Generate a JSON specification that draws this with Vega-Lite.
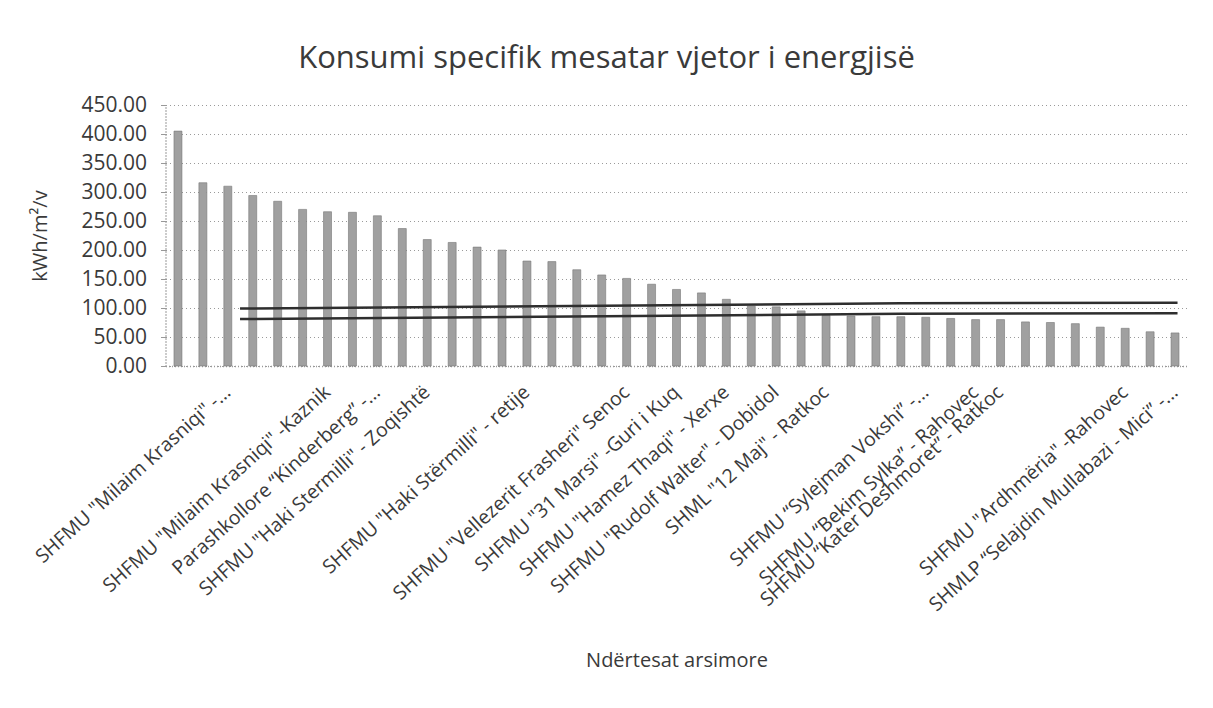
{
  "$schema": "https://vega.github.io/schema/vega-lite/v6.json",
  "width": 1022,
  "height": 261,
  "autosize": {"type": "none"},
  "padding": {"left": 165.5, "top": 105, "right": 25.5, "bottom": 342},
  "background": "white",
  "config": {"view": {"stroke": null}, "font": "Open Sans"},
  "title": {
    "text": "Konsumi specifik mesatar vjetor i energjisë",
    "font": "Open Sans",
    "fontSize": 31,
    "fontWeight": "normal",
    "color": "#3a3a3a",
    "dx": -70,
    "offset": 19
  },
  "datasets": {
    "bars": [
      {"name": "#01", "value": 405},
      {"name": "#02", "value": 316},
      {"name": "SHFMU \"Milaim Krasniqi\" -...", "value": 310},
      {"name": "#04", "value": 294},
      {"name": "#05", "value": 284},
      {"name": "#06", "value": 270},
      {"name": "SHFMU \"Milaim Krasniqi\" -Kaznik", "value": 266},
      {"name": "#08", "value": 265},
      {"name": "Parashkollore “Kinderberg” -...", "value": 259},
      {"name": "#10", "value": 237},
      {"name": "SHFMU \"Haki Stermilli\" - Zoqishtë", "value": 218},
      {"name": "#12", "value": 213},
      {"name": "#13", "value": 205},
      {"name": "#14", "value": 200},
      {"name": "SHFMU \"Haki Stërmilli\" - retije", "value": 181},
      {"name": "#16", "value": 180},
      {"name": "#17", "value": 166},
      {"name": "#18", "value": 157},
      {"name": "SHFMU \"Vellezerit Frasheri\" Senoc", "value": 151},
      {"name": "#20", "value": 141},
      {"name": "SHFMU \"31 Marsi\" -Guri i Kuq", "value": 132},
      {"name": "#22", "value": 126},
      {"name": "SHFMU \"Hamez Thaqi\" - Xerxe", "value": 115},
      {"name": "#24", "value": 103},
      {"name": "SHFMU \"Rudolf Walter\" - Dobidol", "value": 102},
      {"name": "#26", "value": 95},
      {"name": "SHML \"12 Maj\" - Ratkoc", "value": 87},
      {"name": "#28", "value": 86},
      {"name": "#29", "value": 85},
      {"name": "#30", "value": 85},
      {"name": "SHFMU “Sylejman Vokshi” -...", "value": 84},
      {"name": "#32", "value": 82},
      {"name": "SHFMU “Bekim Sylka” - Rahovec", "value": 80},
      {"name": "SHFMU “Kater Deshmoret” - Ratkoc", "value": 80},
      {"name": "#35", "value": 76},
      {"name": "#36", "value": 75},
      {"name": "#37", "value": 73},
      {"name": "#38", "value": 67},
      {"name": "SHFMU \"Ardhmëria\" -Rahovec", "value": 65},
      {"name": "#40", "value": 59},
      {"name": "SHMLP “Selajdin Mullabazi - Mici” -...", "value": 57}
    ],
    "lines": [
      {"series": "A", "pos": 2.99, "value": 99},
      {"series": "A", "pos": 15.0, "value": 103},
      {"series": "A", "pos": 29.5, "value": 108},
      {"series": "A", "pos": 40.6, "value": 109},
      {"series": "B", "pos": 2.99, "value": 81},
      {"series": "B", "pos": 15.0, "value": 85},
      {"series": "B", "pos": 29.5, "value": 90},
      {"series": "B", "pos": 40.6, "value": 91}
    ]
  },
  "encoding": {
    "y": {
      "field": "value",
      "type": "quantitative",
      "scale": {"domain": [0, 450], "nice": false},
      "title": "kWh/m²/v",
      "axis": {
        "values": [0, 50, 100, 150, 200, 250, 300, 350, 400, 450],
        "format": ".2f",
        "labelOverlap": false,
        "labelFont": "Open Sans",
        "labelFontSize": 21,
        "labelColor": "#3a3a3a",
        "labelPadding": 14,
        "ticks": true,
        "tickSize": 5,
        "tickColor": "#999999",
        "domainColor": "#999999",
        "domainDash": [1, 2],
        "domainWidth": 2,
        "gridColor": "#9a9a9a",
        "gridDash": [1, 3],
        "gridWidth": 1,
        "titleFont": "Open Sans",
        "titleFontSize": 20,
        "titleFontWeight": "normal",
        "titleColor": "#3a3a3a",
        "titlePadding": 30
      }
    }
  },
  "layer": [
    {
      "data": {"name": "bars"},
      "mark": {"type": "bar", "color": "#a0a0a0", "stroke": "#777777", "strokeWidth": 0.6},
      "encoding": {
        "x": {
          "field": "name",
          "type": "nominal",
          "sort": null,
          "scale": {"paddingInner": 0.68, "paddingOuter": 0.34},
          "title": "Ndërtesat arsimore",
          "axis": {
            "labelExpr": "indexof(datum.value, '#') === 0 ? '' : datum.value",
            "labelAngle": -42,
            "labelAlign": "right",
            "labelBaseline": "middle",
            "labelFont": "Open Sans",
            "labelFontSize": 19.5,
            "labelColor": "#3a3a3a",
            "labelLimit": 1000,
            "labelOverlap": false,
            "labelBound": false,
            "labelOffset": 0,
            "labelPadding": 23,
            "ticks": false,
            "domainColor": "#999999",
            "domainDash": [1, 2],
            "domainWidth": 1.5,
            "grid": false,
            "titleFont": "Open Sans",
            "titleFontSize": 20,
            "titleFontWeight": "normal",
            "titleColor": "#3a3a3a",
            "titlePadding": 84
          }
        }
      }
    },
    {
      "data": {"name": "lines"},
      "mark": {"type": "line", "color": "#2e2e2e", "strokeWidth": 2.5},
      "encoding": {
        "x": {"field": "pos", "type": "quantitative", "scale": {"domain": [0, 41]}, "axis": null},
        "detail": {"field": "series"}
      }
    }
  ],
  "resolve": {"scale": {"x": "independent"}}
}
